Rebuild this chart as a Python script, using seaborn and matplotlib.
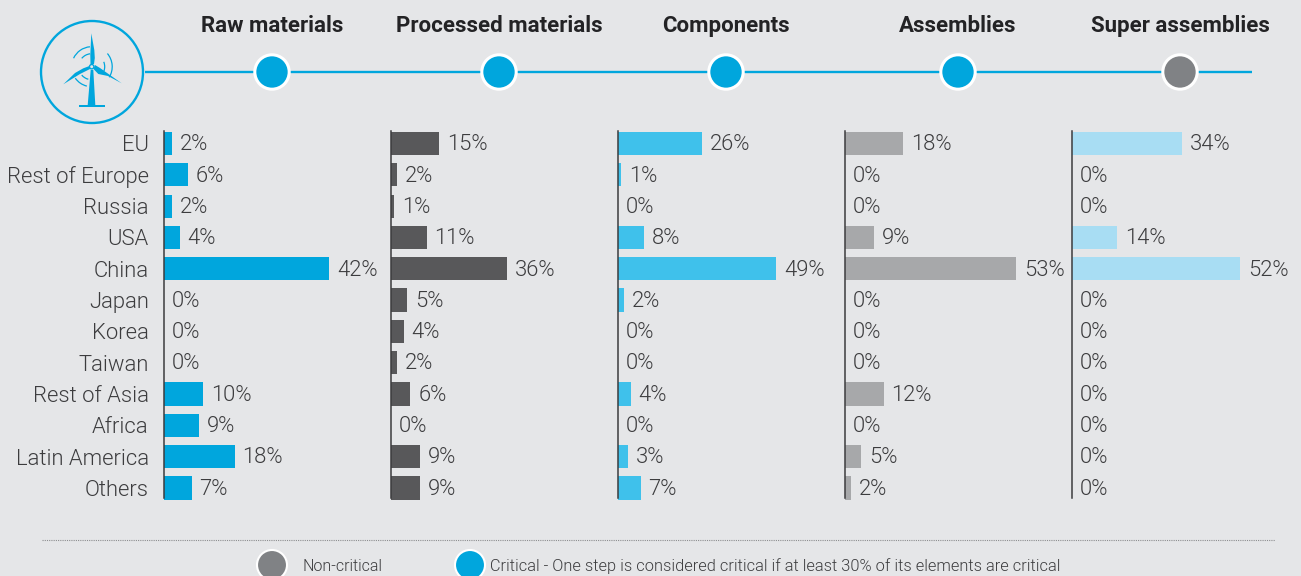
import matplotlib
matplotlib.use("Agg")
import matplotlib.pyplot as plt
from matplotlib.patches import Circle, Polygon, Arc
import pandas as pd
import seaborn as sns

regions = ["EU", "Rest of Europe", "Russia", "USA", "China", "Japan", "Korea",
           "Taiwan", "Rest of Asia", "Africa", "Latin America", "Others"]
raw_materials = [2, 6, 2, 4, 42, 0, 0, 0, 10, 9, 18, 7]
processed_materials = [15, 2, 1, 11, 36, 5, 4, 2, 6, 0, 9, 9]
components = [26, 1, 0, 8, 49, 2, 0, 0, 4, 0, 3, 7]
assemblies = [18, 0, 0, 9, 53, 0, 0, 0, 12, 0, 5, 2]
super_assemblies = [34, 0, 0, 14, 52, 0, 0, 0, 0, 0, 0, 0]

steps = ["Raw materials", "Processed materials", "Components", "Assemblies", "Super assemblies"]
step_values = [raw_materials, processed_materials, components, assemblies, super_assemblies]
bar_colors = ["#00A6DD", "#58585A", "#3FC1EB", "#A7A8AA", "#A8DDF3"]
node_colors = ["#00A6DD", "#00A6DD", "#00A6DD", "#00A6DD", "#808285"]
axis_max = [50, 60, 60, 60, 60]
px_per_percent = [3.93, 3.23, 3.23, 3.23, 3.23]

W, H = 1301, 576
BG = "#E5E6E8"
BLUE = "#00A6DD"
TEXT = "#3C3C3E"

sns.set_theme(style="white")
plt.rcParams["font.family"] = ["Roboto", "DejaVu Sans"]

fig = plt.figure(figsize=(W / 100, H / 100), dpi=100, facecolor=BG)

# Full-figure layer in pixel units for the process header and the footer
overlay = fig.add_axes([0, 0, 1, 1], zorder=0)
overlay.set_xlim(0, W)
overlay.set_ylim(H, 0)
overlay.axis("off")

# Bar panels
left_edges = [164, 391, 618, 845, 1072]
top_px, bottom_px = 127.8, 503.7
LABEL_SIZE = 15.8

for i, (values, color) in enumerate(zip(step_values, bar_colors)):
    width_px = px_per_percent[i] * axis_max[i]
    ax = fig.add_axes([left_edges[i] / W, 1 - bottom_px / H,
                       width_px / W, (bottom_px - top_px) / H], zorder=2)
    ax.patch.set_alpha(0)
    frame = pd.DataFrame({"region": regions, "share": values})
    sns.barplot(data=frame, x="share", y="region", color=color, saturation=1,
                width=0.74, linewidth=0, ax=ax)
    ax.set_xlim(0, axis_max[i])
    ax.set_ylim(11.5, -0.5)
    ax.set_xlabel("")
    ax.set_ylabel("")
    ax.set_xticks([])
    sns.despine(ax=ax, top=True, right=True, bottom=True)
    ax.spines["left"].set_color("#3C3C3E")
    ax.spines["left"].set_linewidth(1.1)
    ax.spines["left"].set_bounds(-0.4, 11.33)
    labels = ax.bar_label(ax.containers[0], labels=[f"{v}%" for v in values], padding=5.6,
                          fontsize=LABEL_SIZE, color=TEXT, fontweight=300)
    for label in labels:
        label.xyann = (5.6, -0.9)
    if i == 0:
        ax.set_yticks(range(len(regions)))
        ax.set_yticklabels(regions, fontsize=LABEL_SIZE, color=TEXT, fontweight=300)
        ax.tick_params(axis="y", length=0, pad=11)
    else:
        ax.set_yticks([])

# Process line with one node per step
overlay.plot([145, 1252], [72, 72], color=BLUE, lw=1.7, zorder=1, solid_capstyle="butt")
node_x = [272, 499, 726, 958, 1180]
for x, step, color in zip(node_x, steps, node_colors):
    overlay.add_patch(Circle((x, 72), 17.2, facecolor=color, edgecolor="white", lw=2.2, zorder=3))
    overlay.text(x, 32, step, ha="center", va="baseline", fontsize=16,
                 fontweight="bold", color="#232325")

# Wind turbine emblem
overlay.add_patch(Circle((92, 72), 51, facecolor="none", edgecolor=BLUE, lw=1.7, zorder=3))
turbine_shapes = [
    [(87.7, 105), (90.7, 70), (93.3, 70), (95.3, 105)],
    [(79, 105), (105, 105), (105, 107), (79, 107)],
    [(91.3, 33.3), (94.3, 50), (94.8, 58), (94, 64), (90.5, 64), (90.3, 55)],
    [(63.3, 84.3), (75, 73), (83.3, 68.3), (89.5, 66), (90, 69), (80, 74)],
    [(121.7, 83.3), (108, 76), (98.3, 74), (93.5, 69), (95, 65), (100, 68)],
]
for shape in turbine_shapes:
    overlay.add_patch(Polygon(shape, closed=True, facecolor=BLUE, edgecolor="none", zorder=3))
overlay.add_patch(Circle((91.7, 66.7), 2.2, facecolor=BG, edgecolor=BLUE, lw=1, zorder=4))
# Arc angles run clockwise on screen because the pixel layer's y axis points down
for radius, start, end in [(20, 95, 155), (13, 97, 140), (20.5, -31, 40), (13, -20, 22),
                           (20, 215, 256), (13, 220, 255)]:
    overlay.add_patch(Arc((91.7, 66.7), 2 * radius, 2 * radius, theta1=-end, theta2=-start,
                          color=BLUE, lw=0.9, zorder=3))

# Footer rule and key
overlay.plot([42, 1275], [539.5, 539.5], color="#8C8D8F", lw=0.8, ls=(0, (1, 1)))
overlay.add_patch(Circle((272, 565), 15, facecolor="#808285", edgecolor="white", lw=1.5))
overlay.add_patch(Circle((470, 565), 15, facecolor=BLUE, edgecolor="white", lw=1.5))
overlay.text(302, 571, "Non-critical", fontsize=11.5, va="baseline", color=TEXT, fontweight=300)
overlay.text(490, 571, "Critical - One step is considered critical if at least 30% of its elements are critical",
             fontsize=11.8, va="baseline", color=TEXT, fontweight=300)

fig.savefig("out.png", dpi=100, facecolor=BG)
